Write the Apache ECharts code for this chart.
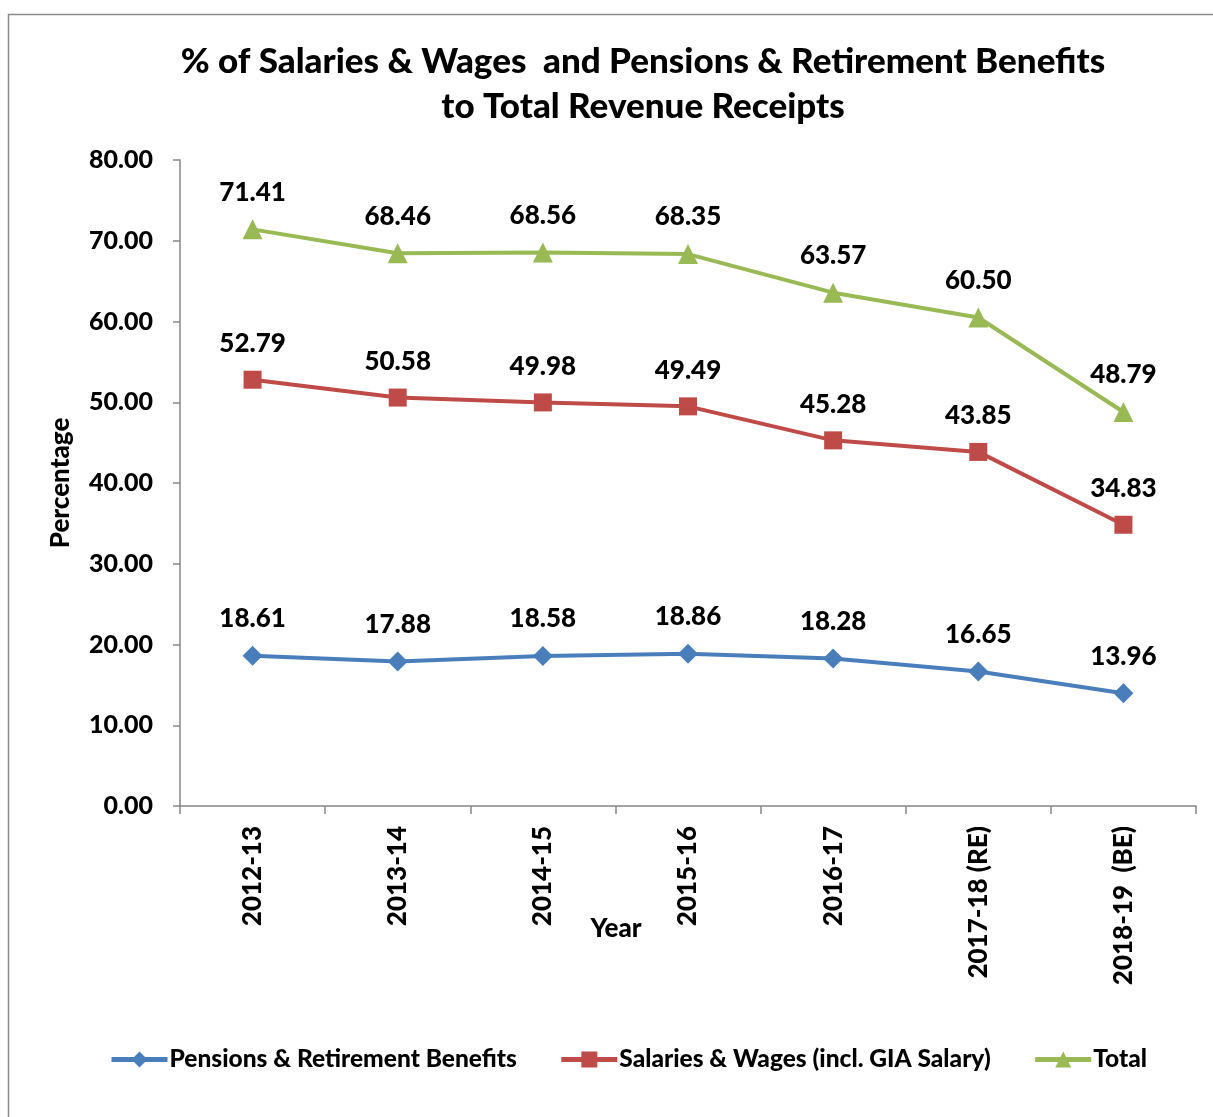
<!DOCTYPE html>
<html>
<head>
<meta charset="utf-8">
<script src="https://cdn.jsdelivr.net/npm/echarts@6/dist/echarts.min.js"></script>
<style>
  html, body { margin: 0; padding: 0; background: #fff; }
  #chart { width: 1213px; height: 1117px; }
</style>
</head>
<body>
<div id="chart"></div>
<script>
// years on the x axis
var years = ['2012-13', '2013-14', '2014-15', '2015-16', '2016-17', '2017-18 (RE)', '2018-19  (BE)'];
// series values (%)
var pensions = [18.61, 17.88, 18.58, 18.86, 18.28, 16.65, 13.96];
var salaries = [52.79, 50.58, 49.98, 49.49, 45.28, 43.85, 34.83];
var total = [71.41, 68.46, 68.56, 68.35, 63.57, 60.50, 48.79];

var FONT = 'Lato, "Open Sans", sans-serif';
var chart = echarts.init(document.getElementById('chart'));

function lineSeries(name, data, color, symbol, size) {
  return {
    name: name,
    type: 'line',
    data: data,
    symbol: symbol,
    symbolSize: size,
    lineStyle: { color: color, width: 4 },
    itemStyle: { color: color },
    label: {
      show: true,
      position: 'top',
      distance: 14,
      color: '#000',
      fontFamily: FONT,
      fontWeight: 900,
      fontSize: 26,
      formatter: function (p) { return p.value.toFixed(2); }
    },
    animation: false
  };
}

var option = {
  backgroundColor: '#fff',
  graphic: [{
    type: 'rect',
    shape: { x: 8.5, y: 14.5, width: 1220, height: 1120 },
    style: { fill: 'none', stroke: '#8a8a8a', lineWidth: 1.5 },
    silent: true
  }],
  title: {
    text: '% of Salaries & Wages  and Pensions & Retirement Benefits\nto Total Revenue Receipts',
    left: 638,
    textAlign: 'center',
    top: 34,
    textStyle: {
      fontFamily: FONT,
      fontWeight: 900,
      fontSize: 35,
      lineHeight: 45,
      color: '#000'
    }
  },
  legend: {
    top: 1042,
    left: 104,
    itemWidth: 56,
    itemHeight: 20,
    itemGap: 42,
    lineStyle: { width: 5 },
    textStyle: { fontFamily: FONT, fontWeight: 900, fontSize: 24.5, color: '#000', padding: [0, 0, 0, -3] },
    data: ['Pensions & Retirement Benefits', 'Salaries & Wages (incl. GIA Salary)', 'Total']
  },
  grid: { left: 180, right: 17, top: 160, bottom: 311 },
  xAxis: {
    type: 'category',
    data: years,
    boundaryGap: true,
    name: 'Year',
    nameLocation: 'middle',
    nameGap: 110,
    nameMoveOverlap: false,
    nameTextStyle: { fontFamily: FONT, fontWeight: 900, fontSize: 26, color: '#000', padding: [0, 144, 0, 0] },
    axisLine: { lineStyle: { color: '#868686', width: 1.5 } },
    axisTick: { show: true, length: 8, lineStyle: { color: '#868686', width: 1.5 } },
    axisLabel: {
      rotate: 90,
      margin: 20,
      color: '#000',
      fontFamily: FONT,
      fontWeight: 900,
      fontSize: 26
    },
    splitLine: { show: false }
  },
  yAxis: {
    type: 'value',
    min: 0,
    max: 80,
    interval: 10,
    name: 'Percentage',
    nameLocation: 'middle',
    nameRotate: 90,
    nameGap: 106,
    nameMoveOverlap: false,
    nameTextStyle: { fontFamily: FONT, fontWeight: 900, fontSize: 26, color: '#000' },
    axisLine: { show: true, lineStyle: { color: '#868686', width: 1.5 } },
    axisTick: { show: true, length: 7, lineStyle: { color: '#868686', width: 1.5 } },
    axisLabel: {
      margin: 27,
      color: '#000',
      fontFamily: FONT,
      fontWeight: 900,
      fontSize: 25,
      formatter: function (v) { return v.toFixed(2); }
    },
    splitLine: { show: false }
  },
  series: [
    lineSeries('Pensions & Retirement Benefits', pensions, '#4a7ebb', 'diamond', 20),
    lineSeries('Salaries & Wages (incl. GIA Salary)', salaries, '#be4b48', 'rect', 18),
    lineSeries('Total', total, '#98b954', 'triangle', 20)
  ]
};

chart.setOption(option);
</script>
</body>
</html>
